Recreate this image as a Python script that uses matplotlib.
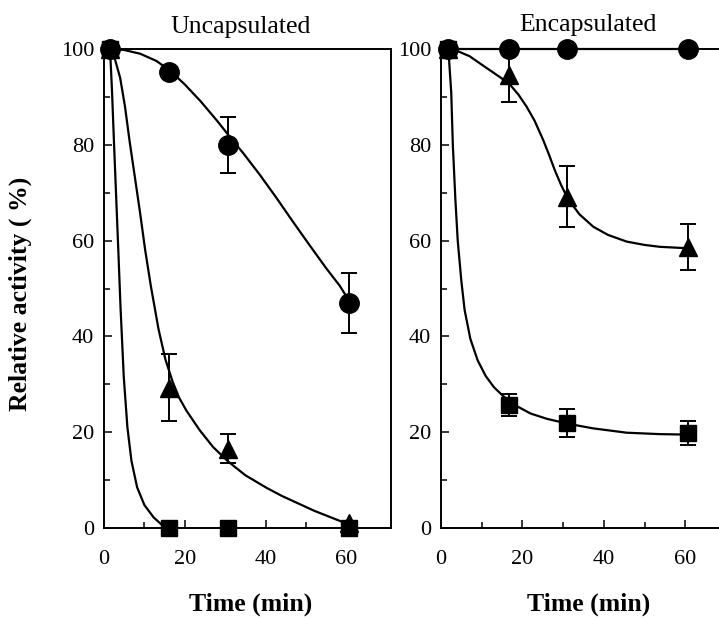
"""
Relative activity over time, uncapsulated vs encapsulated enzyme.
"""

import matplotlib
matplotlib.use("Agg")
import matplotlib.pyplot as plt

plt.rcParams["font.family"] = ["Liberation Serif", "DejaVu Serif"]

# Measured points (time in min, activity in %)
t_unc = [1.5, 16.2, 30.8, 60.5]
unc_circle = [100, 95.3, 80, 47]
unc_circle_err = [0, 0, 5.8, 6.2]
unc_triangle = [100, 29.3, 16.6, 1]
unc_triangle_err = [0, 7, 3, 0]
unc_square = [100, 0, 0, 0]

t_enc = [1.8, 16.8, 31, 60.6]
enc_circle = [100, 100, 100, 100]
enc_triangle = [100, 94.5, 69.2, 58.7]
enc_triangle_err = [0, 5.5, 6.4, 4.8]
enc_square = [100, 25.7, 21.9, 19.8]
enc_square_err = [0, 2.3, 3.0, 2.5]

# Fitted curves
unc_circle_fit_t = [1.5, 5, 9, 13, 16.3, 20, 24, 28, 31.1, 34.5, 38.5, 42.6, 46.7, 50.9, 55, 58.3, 60.6]
unc_circle_fit = [100, 99.8, 99, 97.5, 95.5, 92.6, 89, 85, 81.7, 78.2, 73.8, 69, 64, 59, 54.2, 50.6, 47.5]
unc_triangle_fit_t = [1.5, 2.5, 4.0, 5.2, 6.3, 7.6, 8.9, 10.2, 11.6, 13.5, 15.2, 17, 18.6, 20.4, 23.7, 27, 30.7,
                      35, 40.2, 44, 48.4, 52, 55, 58, 60.5]
unc_triangle_fit = [100, 98.5, 94, 88, 81, 73.5, 66, 58, 50.5, 41.5, 35.2, 30.5, 27.2, 24.5, 20.4, 16.9, 13.9,
                    11, 8.4, 6.7, 5.0, 3.6, 2.6, 1.6, 0.8]
unc_square_fit_t = [1.5, 2.0, 2.5, 3.0, 3.5, 4.1, 4.9, 5.8, 6.8, 8.2, 10.0, 12.3, 14.4, 16.2]
unc_square_fit = [100, 91, 80, 69.5, 59, 46, 31.5, 21, 14, 8.5, 4.8, 2.2, 0.6, 0]

enc_circle_fit_t = [1.8, 60.6]
enc_circle_fit = [100, 100]
enc_triangle_fit_t = [1.8, 3.4, 7, 10.4, 14.7, 17, 19, 21, 23, 25.1, 26.5, 28, 29.5, 30.9, 32.5, 34, 37.4, 41,
                      45.6, 50, 53.8, 60.7]
enc_triangle_fit = [100, 99.8, 98.5, 96.5, 94, 92.5, 90.5, 88, 85, 81, 78, 74.6, 71.6, 69.2, 67.2, 65.5, 62.9, 61.2,
                    59.8, 59.1, 58.7, 58.4]
enc_square_fit_t = [1.8, 2.5, 2.9, 3.5, 4.1, 5.0, 5.8, 7.2, 9.0, 11.0, 13.0, 15.2, 16.8, 18.5, 22, 26, 31, 37.4,
                    45.6, 53.8, 60.7]
enc_square_fit = [100, 91, 80, 69, 60, 51.5, 45.5, 39.5, 35, 31.7, 29.4, 27.6, 26.5, 25.5, 23.9, 22.8, 21.8, 20.8,
                  19.9, 19.6, 19.5]

fig = plt.figure(figsize=(7.19, 6.18), dpi=100)
ax1 = fig.add_axes([0.1446, 0.1456, 0.3992, 0.7751])
ax2 = fig.add_axes([0.6134, 0.1456, 0.4019, 0.7751])


def draw_series(ax, t, y, err, fit_t, fit_y, marker, ms):
    ax.plot(fit_t, fit_y, color="black", lw=1.6, zorder=2, clip_on=False,
            solid_joinstyle="round")
    if err is not None:
        ax.errorbar(t, y, yerr=err, fmt="none", ecolor="black", elinewidth=1.4,
                    capsize=6, capthick=1.4, zorder=3, clip_on=False)
    ax.plot(t, y, linestyle="none", marker=marker, ms=ms, color="black",
            zorder=4, clip_on=False)


draw_series(ax1, t_unc, unc_circle, unc_circle_err, unc_circle_fit_t, unc_circle_fit, "o", 14)
draw_series(ax1, t_unc, unc_triangle, unc_triangle_err, unc_triangle_fit_t, unc_triangle_fit, "^", 13)
draw_series(ax1, t_unc, unc_square, None, unc_square_fit_t, unc_square_fit, "s", 12)

draw_series(ax2, t_enc, enc_circle, None, enc_circle_fit_t, enc_circle_fit, "o", 14)
draw_series(ax2, t_enc, enc_triangle, enc_triangle_err, enc_triangle_fit_t, enc_triangle_fit, "^", 13)
draw_series(ax2, t_enc, enc_square, enc_square_err, enc_square_fit_t, enc_square_fit, "s", 12)

for ax in (ax1, ax2):
    ax.set_xlim(0, 71)
    ax.set_ylim(0, 100)
    ax.set_xticks([0, 20, 40, 60])
    ax.set_xticks([10, 30, 50], minor=True)
    ax.set_yticks([0, 20, 40, 60, 80, 100])
    ax.set_yticks([10, 30, 50, 70, 90], minor=True)
    ax.tick_params(which="both", direction="in", top=False, right=False,
                   labelsize=16, width=1.1)
    ax.tick_params(which="major", length=6)
    ax.tick_params(which="minor", length=4)
    ax.tick_params(axis="x", pad=16)
    ax.tick_params(axis="y", pad=7)
    for s in ax.spines.values():
        s.set_linewidth(1.4)

fig.text(0.334, 0.9466, "Uncapsulated", ha="center", va="baseline", fontsize=18.5)
fig.text(0.818, 0.9503, "Encapsulated", ha="center", va="baseline", fontsize=18.5)
fig.text(0.348, 0.012, "Time (min)", ha="center", va="baseline", fontsize=18.5, fontweight="bold")
fig.text(0.818, 0.012, "Time (min)", ha="center", va="baseline", fontsize=18.5, fontweight="bold")
fig.text(0.028, 0.525, "Relative activity ( %)", ha="center", va="center", rotation=90,
         fontsize=18.5, fontweight="bold")

fig.savefig("out.png", dpi=100)
